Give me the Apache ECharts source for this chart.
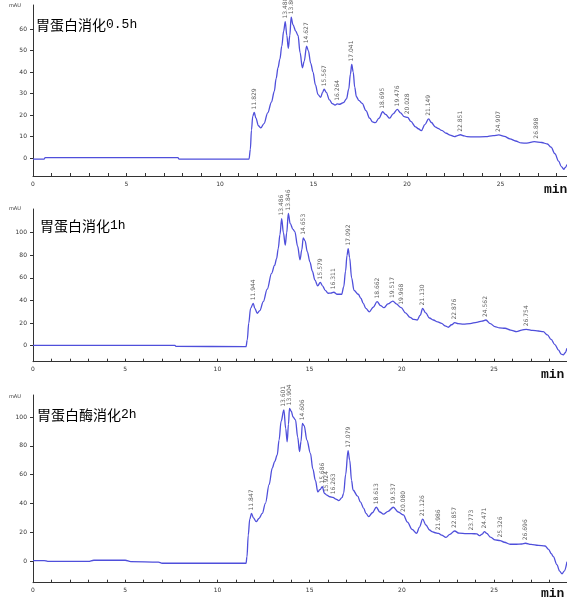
<!DOCTYPE html>
<html>
<head>
<meta charset="utf-8">
<script src="https://cdn.jsdelivr.net/npm/echarts@6/dist/echarts.min.js"></script>
<style>
html,body{margin:0;padding:0;background:#fff;}
#c{width:567px;height:604px;}
</style>
</head>
<body>
<div id="c"></div>
<script>
// ---------- DATA ----------
const titles = ['胃蛋白消化', '胃蛋白消化', '胃蛋白酶消化'];
const titleSuffix = ['0.5h', '1h', '2h'];

const xTicks = [0,1,2,3,4,5,6,7,8,9,10,11,12,13,14,15,16,17,18,19,20,21,22,23,24,25,26,27,28];
const xLabels = [0,5,10,15,20,25];

const yLabels1 = [0,10,20,30,40,50,60];
const yLabels2 = [0,20,40,60,80,100];
const yLabels3 = [0,20,40,60,80,100];

// Trace: 胃蛋白消化0.5h  [time (min), absorbance (mAU)]
const curve1 = [
 [0,-0.5],[0.6,-0.5],[0.65,0.2],[7.75,0.2],[7.8,-0.5],[11.55,-0.5],[11.62,4],[11.68,13],[11.75,19.5],[11.829,21.2],
 [11.92,18.5],[12.05,15],[12.18,14],[12.35,16],[12.55,21],[12.75,26],[12.9,31],[13.0,37],[13.1,42],[13.2,46],
 [13.3,52],[13.4,59],[13.488,63.5],[13.57,57],[13.65,51],[13.73,57],[13.802,65.5],[13.9,62],[14.05,59],[14.17,57],
 [14.28,49],[14.4,42],[14.5,45],[14.627,52],[14.72,50],[14.85,44],[14.97,40],[15.1,34],[15.24,29.5],[15.38,28.2],
 [15.48,30.5],[15.567,32],[15.68,30.5],[15.85,27],[16.0,25.3],[16.15,24.6],[16.264,25.2],[16.4,25.0],[16.6,25.8],[16.76,27.5],
 [16.88,32],[16.97,39],[17.041,43.5],[17.12,40],[17.2,33],[17.29,28.5],[17.42,26.8],[17.6,25.4],[17.8,22],[18.0,18.5],
 [18.15,16.8],[18.3,16.4],[18.5,18.5],[18.695,21.5],[18.85,20.3],[19.07,18.5],[19.25,20.5],[19.476,22.6],[19.65,21],[19.85,19.2],
 [20.028,18.9],[20.2,17],[20.45,14.5],[20.6,13.6],[20.76,12.7],[20.95,15.5],[21.149,18.2],[21.3,16.5],[21.5,14.5],[21.65,13.8],
 [21.85,12.8],[22.1,11.5],[22.3,10.6],[22.54,9.9],[22.7,10.4],[22.851,10.8],[23.05,10.3],[23.2,9.9],[23.6,9.8],[24.2,9.9],
 [24.6,10.4],[24.907,10.7],[25.2,10.0],[25.5,8.9],[25.8,7.9],[26.1,7.0],[26.4,6.9],[26.8,7.6],[27.2,7.2],[27.5,6.5],
 [27.7,5.0],[27.9,2],[28.1,-1.5],[28.25,-4],[28.38,-5.3],[28.45,-4.5],[28.55,-3]
];
const peakTimes1 = [11.829,13.488,13.802,14.627,15.567,16.264,17.041,18.695,19.476,20.028,21.149,22.851,24.907,26.898];
const peakHeights1 = [21.2,63.5,65.5,52,32,25.2,43.5,21.5,22.6,18.9,18.2,10.8,10.7,7.6];

// Trace: 胃蛋白消化1h
const curve2 = [
 [0,0.2],[7.7,0.2],[7.75,-0.6],[11.55,-0.9],[11.62,5],[11.7,20],[11.8,33],[11.944,37.5],[12.03,33],[12.16,28.7],
 [12.3,31],[12.49,39],[12.7,50],[12.94,64],[13.1,71],[13.21,77],[13.3,86],[13.39,98],[13.486,112.5],[13.58,100],
 [13.68,89],[13.76,100],[13.846,117],[13.95,108],[14.1,103],[14.2,101],[14.35,88],[14.48,76],[14.58,85],[14.653,95.5],
 [14.75,93],[14.88,83],[15.02,74],[15.15,66],[15.29,58],[15.44,53],[15.579,56],[15.7,53],[15.85,49],[16.01,46.4],
 [16.15,46.5],[16.311,47.3],[16.5,45.5],[16.74,45.5],[16.85,52],[16.95,66],[17.03,80],[17.092,86],[17.17,78],[17.28,60],
 [17.41,49],[17.64,45.5],[17.78,42],[17.91,37.5],[18.05,33],[18.24,30],[18.45,34],[18.662,39],[18.85,35.5],[19.03,33.6],
 [19.25,37],[19.517,39.5],[19.7,37],[19.968,33.6],[20.2,29],[20.45,25],[20.65,23.2],[20.84,22.7],[21.0,27],[21.13,33],
 [21.3,29],[21.5,24.5],[21.71,22.7],[21.95,21],[22.16,19.8],[22.35,17.5],[22.52,16.3],[22.7,18.5],[22.876,20.4],[23.05,19.5],
 [23.34,19],[23.7,19.6],[24.06,20.7],[24.35,21.8],[24.562,22.7],[24.8,19.5],[25.05,16.8],[25.3,15.8],[25.6,15.4],[25.9,13.8],
 [26.23,12.4],[26.5,13.7],[26.754,14.5],[27.1,13.5],[27.4,13],[27.67,12.4],[27.9,9.5],[28.1,5.5],[28.3,1],[28.5,-4],
 [28.65,-7.5],[28.76,-8.2],[28.85,-6.5],[28.96,-2.3]
];
const peakTimes2 = [11.944,13.486,13.846,14.653,15.579,16.311,17.092,18.662,19.517,19.968,21.130,22.876,24.562,26.754];
const peakHeights2 = [37.5,112.5,117,95.5,56,47.3,86,39,39.5,33.6,33,20.4,22.7,14.5];

// Trace: 胃蛋白酶消化2h
const curve3 = [
 [0,0.3],[0.6,0.3],[0.8,-0.3],[3.0,-0.3],[3.3,0.5],[5.0,0.5],[5.3,-0.5],[6.8,-0.8],[7.0,-1.6],[11.55,-1.6],
 [11.6,3],[11.67,18],[11.75,29],[11.847,33],[11.95,30],[12.1,27.3],[12.25,29.5],[12.43,33],[12.6,40],[12.8,53],
 [12.97,64.4],[13.1,69],[13.24,73.6],[13.34,84],[13.45,97],[13.601,105],[13.7,92],[13.78,82.8],[13.85,95],[13.904,106],
 [14.0,104],[14.1,100],[14.23,98],[14.35,86],[14.45,76],[14.53,83],[14.606,95.6],[14.7,94],[14.85,84],[15.04,74.8],
 [15.17,64],[15.31,56],[15.44,48],[15.55,49.5],[15.686,51.6],[15.8,47],[15.924,45.8],[16.1,44.6],[16.263,44.2],[16.42,43],
 [16.58,41.9],[16.75,44],[16.84,47],[16.95,60],[17.079,76.6],[17.17,70],[17.27,56],[17.35,49.3],[17.6,45],[17.75,41],
 [17.93,36.6],[18.05,33],[18.2,30.8],[18.4,33.5],[18.613,37.3],[18.8,34],[19.0,32.5],[19.25,34.5],[19.537,37.3],[19.8,34],
 [20.08,32],[20.3,27],[20.55,22],[20.8,19.2],[20.95,23.5],[21.126,29],[21.3,25],[21.5,21.5],[21.63,20.4],[21.8,19.6],
 [21.986,19.2],[22.15,18],[22.39,16.4],[22.6,18.5],[22.857,20.8],[23.1,19.3],[23.5,19],[23.773,19],[24.06,18.8],[24.2,17.6],
 [24.35,18.6],[24.471,20.4],[24.6,19.2],[24.8,16.5],[25.05,14.6],[25.326,14.2],[25.55,13],[25.87,11.6],[26.2,11.6],[26.5,11.8],
 [26.696,12.3],[27.0,11.5],[27.4,10.8],[27.76,10.4],[27.95,8],[28.1,5],[28.21,3],[28.4,-2.5],[28.55,-7],[28.68,-9],
 [28.8,-7],[28.95,-0.5]
];
const peakTimes3 = [11.847,13.601,13.904,14.606,15.686,15.924,16.263,17.079,18.613,19.537,20.080,21.126,21.986,22.857,23.773,24.471,25.326,26.696];
const peakHeights3 = [33,105,106,95.6,51.6,45.8,44.2,76.6,37.3,37.3,32,29,19.2,20.8,19,20.4,14.2,12.3];

// ---------- CHART ----------
const lineColor = '#4f4fdb';
const axisColor = '#333';
const panels = [
  {top:5,   height:171,   ymin:-8.4,  ymax:71.2, xmax:28.55, labels:yLabels1, minorStep:2, curve:curve1, pt:peakTimes1, ph:peakHeights1, titleTop:18,  titleLeft:36, minTop:183, minLeft:544, mauTop:3},
  {top:209, height:152.7, ymin:-14.2, ymax:121,  xmax:28.96, labels:yLabels2, minorStep:5, curve:curve2, pt:peakTimes2, ph:peakHeights2, titleTop:219, titleLeft:40, minTop:368, minLeft:541, mauTop:206},
  {top:395, height:187.7, ymin:-15.1, ymax:115.3,xmax:28.95, labels:yLabels3, minorStep:5, curve:curve3, pt:peakTimes3, ph:peakHeights3, titleTop:408, titleLeft:37, minTop:587, minLeft:541, mauTop:394}
];

function range(a, b, s){ const r=[]; for(let v=a; v<=b+1e-9; v+=s) r.push(+v.toFixed(6)); return r; }

const grid=[], xAxis=[], yAxis=[], series=[], title=[];
panels.forEach((p,i)=>{
  grid.push({left:33, right:0, top:p.top, height:p.height});
  xAxis.push({
    type:'value', gridIndex:i, min:0, max:p.xmax,
    axisLine:{onZero:false, lineStyle:{color:axisColor, width:1}},
    axisTick:{inside:true, length:3, customValues:xTicks, lineStyle:{color:axisColor}},
    axisLabel:{customValues:xLabels, fontSize:6, color:'#333', margin:5, fontFamily:'DejaVu Sans'},
    splitLine:{show:false}
  });
  const yi = yAxis.length;
  yAxis.push({
    type:'value', gridIndex:i, min:p.ymin, max:p.ymax,
    axisLine:{show:true, lineStyle:{color:axisColor, width:1}},
    axisTick:{show:true, length:3, customValues:p.labels, lineStyle:{color:axisColor}},
    axisLabel:{customValues:p.labels, fontSize:6, color:'#333', margin:6, fontFamily:'DejaVu Sans'},
    splitLine:{show:false}
  });
  yAxis.push({
    type:'value', gridIndex:i, min:p.ymin, max:p.ymax,
    axisLine:{show:false},
    axisTick:{show:true, length:2, customValues:range(Math.ceil(p.ymin/p.minorStep)*p.minorStep, p.ymax, p.minorStep), lineStyle:{color:axisColor}},
    axisLabel:{show:false}, splitLine:{show:false}
  });
  series.push({
    type:'line', xAxisIndex:i, yAxisIndex:yi, data:p.curve,
    showSymbol:false, smooth:0.35, smoothMonotone:'x', silent:true,
    lineStyle:{color:lineColor, width:1.3}
  });
  series.push({
    type:'scatter', xAxisIndex:i, yAxisIndex:yi, symbolSize:0, silent:true,
    data:p.pt.map((t,k)=>[t, p.ph[k]]),
    label:{show:true, position:'top', distance:3, rotate:90, align:'left', verticalAlign:'middle',
      fontSize:6, color:'#333', fontFamily:'DejaVu Sans',
      formatter:(d)=>d.value[0].toFixed(3)}
  });
  title.push({
    text:'{a|'+titles[i]+'}{b|'+titleSuffix[i]+'}', left:p.titleLeft, top:p.titleTop, padding:0,
    textStyle:{fontWeight:'normal', rich:{
      a:{fontFamily:'Noto Sans CJK SC', fontSize:14, fontWeight:'normal', color:'#000'},
      b:{fontFamily:'Liberation Mono', fontSize:13, fontWeight:'normal', color:'#000'}
    }}
  });
  title.push({text:'min', left:p.minLeft, top:p.minTop, padding:0,
    textStyle:{fontFamily:'Liberation Mono', fontWeight:'bold', fontSize:13, color:'#111'}});
  title.push({text:'mAU', left:9, top:p.mauTop, padding:0,
    textStyle:{fontFamily:'DejaVu Sans', fontWeight:'normal', fontSize:5, color:'#333'}});
});

const chart = echarts.init(document.getElementById('c'), null, {renderer:'canvas'});
chart.setOption({
  backgroundColor:'#fff',
  animation:false,
  title, grid, xAxis, yAxis, series
});
</script>
</body>
</html>
